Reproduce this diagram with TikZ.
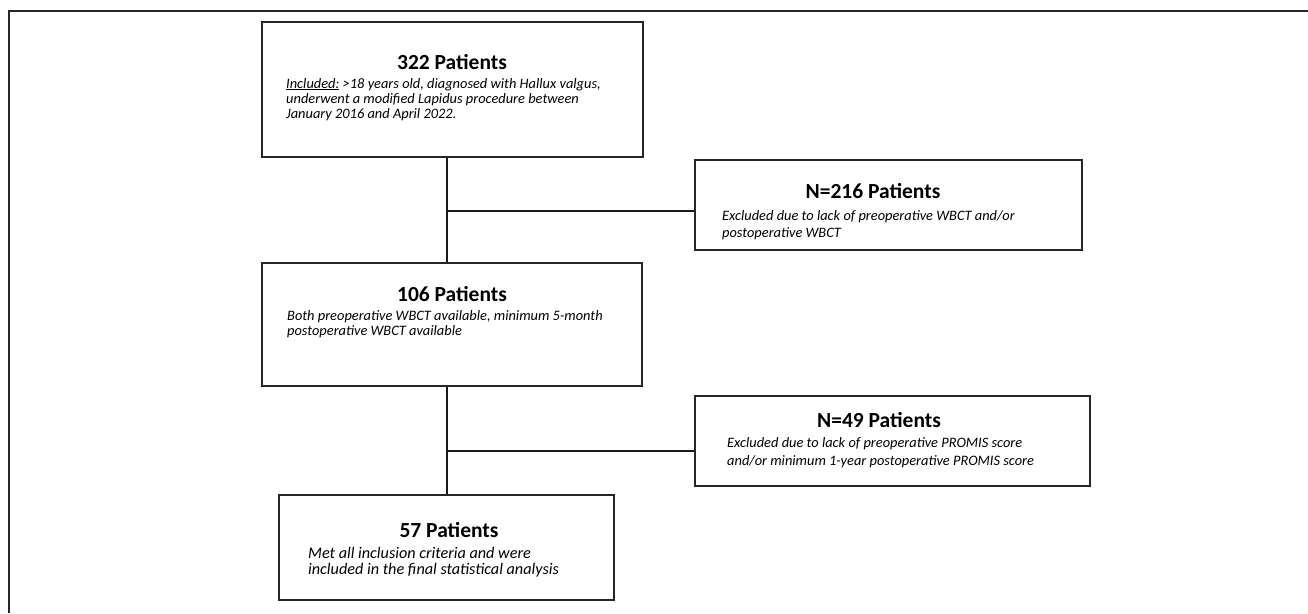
\documentclass[tikz,border=0pt]{standalone}
\usepackage{fontspec}
\setmainfont{Carlito}
\begin{document}
\begin{tikzpicture}[x=1pt,y=-1pt,
  box/.style={draw=black!85, line width=2.2pt, inner sep=0pt, fill=white},
  ttl/.style={font=\bfseries\fontsize{21.5}{24}\selectfont, inner sep=0pt, anchor=base},
  body/.style={font=\itshape\fontsize{14.4}{15}\selectfont, inner sep=0pt, anchor=base west},
  bodyL/.style={font=\itshape\fontsize{16.2}{17}\selectfont, inner sep=0pt, anchor=base west},
  conn/.style={draw=black!90, line width=2.2pt},
  frame/.style={draw=black!85, line width=2pt}]
\useasboundingbox (0,0) rectangle (1308,613);
% outer frame (open at right and bottom)
\coordinate (fr1) at (8.5,613);
\coordinate (fr2) at (8.5,10.5);
\coordinate (fr3) at (1308,10.5);
\draw[frame] (fr1) -- (fr2) -- (fr3);
% boxes
\node[box, minimum width=381pt, minimum height=135pt] (b1) at (452.5,89.5) {};
\node[box, minimum width=387pt, minimum height=90pt] (b2) at (888.5,205) {};
\node[box, minimum width=380pt, minimum height=123pt] (b3) at (452,324.5) {};
\node[box, minimum width=395pt, minimum height=90pt] (b4) at (892.5,441) {};
\node[box, minimum width=335pt, minimum height=105pt] (b5) at (446.5,547.5) {};
% connectors
\coordinate (v1) at (447,211);
\coordinate (v2) at (447,451);
\draw[conn] (b1.south -| v1) -- (b3.north -| v1);
\draw[conn] (v1) -- (v1 -| b2.west);
\draw[conn] (b3.south -| v2) -- (b5.north -| v2);
\draw[conn] (v2) -- (v2 -| b4.west);
% box 1
\node[ttl] (t1) at (452,69) {322 Patients};
\node[body] (d1a) at (286,88) {\underline{Included:} >18 years old, diagnosed with Hallux valgus,};
\node[body] (d1b) at (286,103) {underwent a modified Lapidus procedure between};
\node[body] (d1c) at (286,118) {January 2016 and April 2022.};
% box 2
\node[ttl] (t2) at (873,198) {N=216 Patients};
\node[body] (d2a) at (722,220.5) {Excluded due to lack of preoperative WBCT and/or};
\node[body] (d2b) at (722,237.5) {postoperative WBCT};
% box 3
\node[ttl] (t3) at (452,301) {106 Patients};
\node[body] (d3a) at (287,320.5) {Both preoperative WBCT available, minimum 5-month};
\node[body] (d3b) at (287,335.5) {postoperative WBCT available};
% box 4
\node[ttl] (t4) at (879,427) {N=49 Patients};
\node[body] (d4a) at (727,447.5) {Excluded due to lack of preoperative PROMIS score};
\node[body] (d4b) at (727,465.5) {and/or minimum 1-year postoperative PROMIS score};
% box 5
\node[ttl] (t5) at (449,537) {57 Patients};
\node[bodyL] (d5a) at (308,558) {Met all inclusion criteria and were};
\node[bodyL] (d5b) at (308,574) {included in the final statistical analysis};
\end{tikzpicture}
\end{document}
